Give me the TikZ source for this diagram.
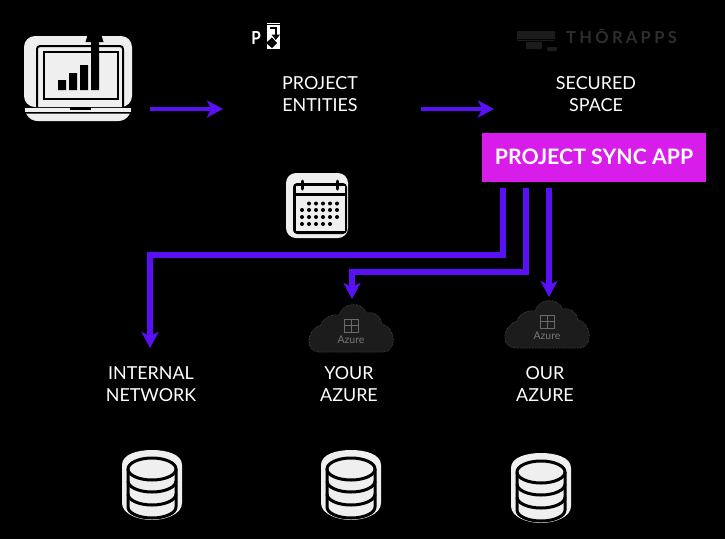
\documentclass[tikz,border=0pt]{standalone}
\usepackage{fontspec}
\setmainfont{Lato}
\usetikzlibrary{arrows.meta,calc}
\definecolor{flow}{HTML}{5A10F5}
\definecolor{sync}{HTML}{D81DEA}
\definecolor{paper}{HTML}{EFEFEF}
\definecolor{cloudfill}{HTML}{1C1C1C}
\definecolor{cloudedge}{HTML}{6A6A6A}
\tikzset{
  lbl/.style={text=white,font=\fontsize{17.9}{22}\selectfont,align=center,inner sep=0pt},
  flowline/.style={draw=flow,line width=5.2pt,-{Stealth[length=16pt,width=17pt,inset=4pt]}},
  flowthin/.style={draw=flow,line width=4pt,-{Stealth[length=16pt,width=17pt,inset=4pt]}},
  ink/.style={draw=black,line width=2pt},
  dbline/.style={draw=black,line width=3pt},
}
\newcommand{\dbicon}[2]{%
  \begin{scope}[shift={(#1,#2)}]
    \fill[paper] (-30,-20) .. controls (-30,-31) and (-14,-35) .. (0,-35) .. controls (14,-35) and (30,-31) .. (30,-20)
      -- (30,18) .. controls (30,29) and (14,35) .. (0,35) .. controls (-14,35) and (-30,29) .. (-30,18) -- cycle;
    \draw[dbline] (-24,-16) -- (-24,22) arc[start angle=180,end angle=360,x radius=24,y radius=-11] -- (24,-16);
    \draw[dbline] (0,-16) ellipse[x radius=24,y radius=11];
    \draw[dbline] (-24,-4) arc[start angle=180,end angle=360,x radius=24,y radius=-11];
    \draw[dbline] (-24,9) arc[start angle=180,end angle=360,x radius=24,y radius=-11];
  \end{scope}}
\newcommand{\cloudicon}[2]{%
  \begin{scope}[shift={(#1,#2)}]
    \filldraw[fill=cloudfill,draw=cloudedge,line width=.5pt,densely dotted] (-32,24) .. controls (-46,24) and (-46,2) .. (-30,-3)
      .. controls (-27,-12) and (-17,-14) .. (-12,-13)
      .. controls (-8,-26) and (10,-27) .. (16,-15)
      .. controls (24,-17) and (31,-10) .. (31,-4)
      .. controls (46,0) and (46,24) .. (32,24) -- cycle;
    \draw[cloudedge,line width=.7pt] (-7,-9) rectangle (7,4) (0,-9) -- (0,4) (-7,-2.5) -- (7,-2.5);
    \node[text=cloudedge!90!white,font=\fontsize{10.5}{10.5}\selectfont,inner sep=0pt] at (0,12) {Azure};
  \end{scope}}
\begin{document}
\begin{tikzpicture}[x=1pt,y=-1pt]
\useasboundingbox (0,0) rectangle (725,539);
\fill[black] (0,0) rectangle (725,539);

% laptop
\fill[paper,rounded corners=11pt] (24,36) rectangle (132,107);
\fill[black] (88,34) -- (101,34) -- (103.5,42) -- (85.5,42) -- cycle;
\draw[ink,rounded corners=3pt] (37,107) -- (37,46) -- (123,46) -- (123,107);
\fill[paper] (44,52) rectangle (118,99);
\draw[ink] (44,52) rectangle (118,99);
\fill[black] (58,80) rectangle (66,90) (69,73) rectangle (77,90) (80,65) rectangle (88,90) (91,38) rectangle (99,90);
\fill[paper] (25,107.5) rectangle (131,111.5);
\fill[black] (70,107) rectangle (91,109.5);
\fill[paper] (26,113.5) -- (130,113.5) .. controls (127,119) and (123,121) .. (118,121) -- (38,121) .. controls (33,121) and (29,119) .. (26,113.5) -- cycle;

% project logo
\node[text=white,font=\bfseries\fontsize{18}{18}\selectfont,inner sep=0pt,xscale=.85] (plogo) at (256,37.5) {P};
\fill[white] (267,23) rectangle (280,49);
\fill[black] (267,24.3) rectangle (280,25.3);
\draw[black,line width=1.5pt] (270,28) -- (276,28) -- (276,36);
\fill[black] (271.5,34.5) -- (280,34.5) -- (275.8,40) -- cycle;
\fill[black] (266,43) -- (272,37.5) -- (277,43) -- (272,48) -- cycle;

% thorapps logo
\fill[cloudfill] (517,31) rectangle (555,39) (517,40) rectangle (554,41);
\fill[cloudfill,rounded corners=1pt] (526,42) rectangle (542,49) (547,47) rectangle (557,51);
\node[text=cloudfill!92!white,font=\bfseries\fontsize{16.5}{16.5}\selectfont,inner sep=0pt,anchor=west] (tlogo) at (566,36) {\addfontfeature{LetterSpace=20}THŌRAPPS};

% labels
\node[lbl] (entities) at (320,94) {PROJECT\\ENTITIES};
\node[lbl] (secured) at (596,94.5) {SECURED\\SPACE};
\node[lbl] (internal) at (151,384.5) {INTERNAL\\NETWORK};
\node[lbl] (your) at (349,384.5) {YOUR\\AZURE};
\node[lbl] (our) at (545,384.5) {OUR\\AZURE};

% sync box
\node[draw=sync,fill=sync,line width=1pt,minimum width=223pt,minimum height=48pt,inner sep=0pt,text=white,font=\bfseries\fontsize{21.3}{21.3}\selectfont] (app) at (594,157) {PROJECT SYNC APP};

% calendar
\fill[paper,rounded corners=10pt] (286,173) rectangle (348,238);
\fill[black,rounded corners=4pt] (293,183) rectangle (347,234);
\fill[paper] (295.5,186) rectangle (344.5,193);
\fill[paper] (295.5,196) rectangle (344.5,231);
\draw[black,line width=3pt,line cap=round] (302,181) -- (302,189) (337,181) -- (337,189);
\foreach \c in {309,316,323,330,337} \fill[black] (\c,203.5) circle (2pt);
\foreach \r in {210,217} \foreach \c in {302,309,316,323,330,337} \fill[black] (\c,\r) circle (2pt);
\foreach \c in {302,309,316,323,330} \fill[black] (\c,224) circle (2pt);

% clouds
\cloudicon{351}{328}
\cloudicon{547}{324}
\coordinate (cloudA) at (352,299);
\coordinate (cloudB) at (549,297);
\coordinate (netin) at (150,348);

% databases
\dbicon{152}{485}
\dbicon{351}{485}
\dbicon{541}{488}

% connectors
\coordinate (start) at (150,109);
\coordinate (e1) at (223,109);
\coordinate (s2) at (421,109);
\coordinate (e2) at (494,109);
\draw[flowthin] (start) -- (e1);
\draw[flowthin] (s2) -- (e2);
\coordinate (a1) at (503,188);
\coordinate (a2) at (526,188);
\coordinate (a3) at (549,188);
\draw[flowline] (a1) |- (150,255) -- (netin);
\draw[flowline] (a2) |- (352,272) -- (cloudA);
\draw[flowline] (a3) -- (cloudB);
\end{tikzpicture}
\end{document}
